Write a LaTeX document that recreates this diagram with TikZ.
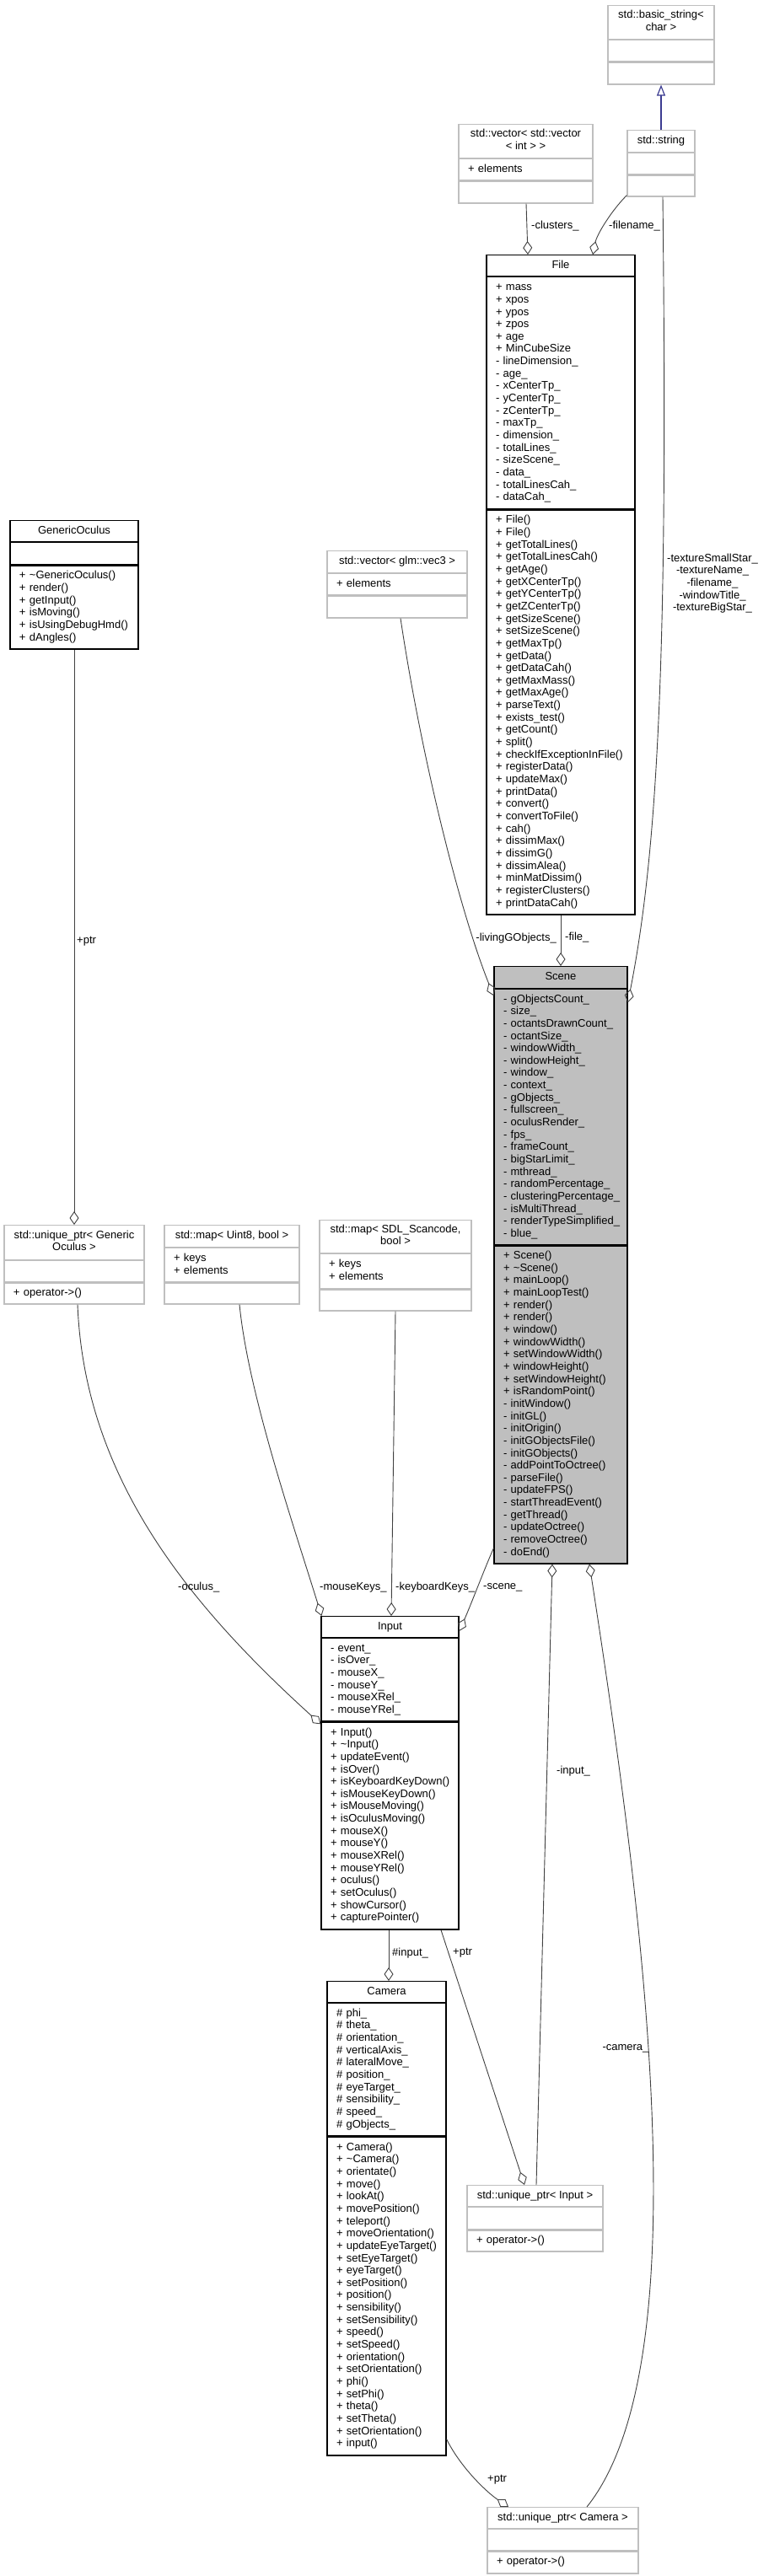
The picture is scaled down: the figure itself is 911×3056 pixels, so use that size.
\documentclass[tikz,border=0pt]{standalone}
\usepackage{fontspec}
\setmainfont{Liberation Sans}
\usetikzlibrary{arrows.meta}
\definecolor{gray75}{RGB}{191,191,191}
\definecolor{gray25}{RGB}{64,64,64}
\definecolor{inhblue}{RGB}{60,60,145}
\hyphenpenalty=10000
\exhyphenpenalty=10000

\begin{document}
\begin{tikzpicture}[x=1pt, y=-1pt,
every node/.style={font=\fontsize{13}{14.65}\selectfont},
hd/.style={anchor=north, inner sep=0pt, align=center, execute at begin node=\strut, execute at end node=\strut},
sec/.style={anchor=north, inner xsep=11pt, inner ysep=0pt, align=left, execute at begin node=\strut, execute at end node=\strut},
ext/.style={draw=gray75, line width=1.2pt},
doc/.style={draw=black, line width=1.2pt},
cur/.style={draw=black, fill=gray75, line width=1.2pt},
agg/.style={draw=gray25, line width=0.9pt, -{Diamond[open, length=16pt, width=11pt]}},
inh/.style={draw=inhblue, line width=1.2pt, -{Triangle[open, length=13pt, width=10pt]}},
lbl/.style={inner sep=0pt}]

\path[use as bounding box] (0,0) rectangle (911,3056);

% classes on top
{
\node[hd, ext, minimum width=126pt, minimum height=40pt] (bstrT) at (784,6) {std::basic\_string<\\char >};
\node[sec, ext, text width=104pt, minimum height=25pt] (bstrA) at (bstrT.south) {};
\node[sec, ext, text width=104pt, minimum height=26pt] (bstrM) at (bstrA.south) {};

\node[hd, ext, minimum width=80pt, minimum height=26pt] (strT) at (784,154) {std::string};
\node[sec, ext, text width=58pt, minimum height=25pt] (strA) at (strT.south) {};
\node[sec, ext, text width=58pt, minimum height=25pt] (strM) at (strA.south) {};

\node[hd, ext, minimum width=159pt, minimum height=40pt] (vvT) at (623.5,147) {std::vector< std::vector\\< int > >};
\node[sec, ext, text width=137pt, minimum height=25pt] (vvA) at (vvT.south) {+~elements};
\node[sec, ext, text width=137pt, minimum height=26pt] (vvM) at (vvA.south) {};
}

% File
{
\node[hd, doc, minimum width=176pt, minimum height=25pt] (fileT) at (665,302) {File};
\node[sec, doc, text width=154pt, minimum height=275pt] (fileA) at (fileT.south) {+~mass\\+~xpos\\+~ypos\\+~zpos\\+~age\\+~MinCubeSize\\-~lineDimension\_\\-~age\_\\-~xCenterTp\_\\-~yCenterTp\_\\-~zCenterTp\_\\-~maxTp\_\\-~dimension\_\\-~totalLines\_\\-~sizeScene\_\\-~data\_\\-~totalLinesCah\_\\-~dataCah\_};
\node[sec, doc, text width=154pt, minimum height=480pt] (fileM) at (fileA.south) {+~File()\\+~File()\\+~getTotalLines()\\+~getTotalLinesCah()\\+~getAge()\\+~getXCenterTp()\\+~getYCenterTp()\\+~getZCenterTp()\\+~getSizeScene()\\+~setSizeScene()\\+~getMaxTp()\\+~getData()\\+~getDataCah()\\+~getMaxMass()\\+~getMaxAge()\\+~parseText()\\+~exists\_test()\\+~getCount()\\+~split()\\+~checkIfExceptionInFile()\\+~registerData()\\+~updateMax()\\+~printData()\\+~convert()\\+~convertToFile()\\+~cah()\\+~dissimMax()\\+~dissimG()\\+~dissimAlea()\\+~minMatDissim()\\+~registerClusters()\\+~printDataCah()};
}

% GenericOculus and vector of vec3
{
\node[hd, doc, minimum width=152pt, minimum height=25pt] (goT) at (88,617) {GenericOculus};
\node[sec, doc, text width=130pt, minimum height=26pt] (goA) at (goT.south) {};
\node[sec, doc, text width=130pt, minimum height=99pt] (goM) at (goA.south) {+~\textasciitilde GenericOculus()\\+~render()\\+~getInput()\\+~isMoving()\\+~isUsingDebugHmd()\\+~dAngles()};

\node[hd, ext, minimum width=166pt, minimum height=26pt] (vgT) at (471,653) {std::vector< glm::vec3 >};
\node[sec, ext, text width=144pt, minimum height=25pt] (vgA) at (vgT.south) {+~elements};
\node[sec, ext, text width=144pt, minimum height=26pt] (vgM) at (vgA.south) {};
}

% Scene
{
\node[hd, cur, minimum width=158pt, minimum height=26pt] (sceneT) at (665,1146) {Scene};
\node[sec, cur, text width=136pt, minimum height=303pt] (sceneA) at (sceneT.south) {-~gObjectsCount\_\\-~size\_\\-~octantsDrawnCount\_\\-~octantSize\_\\-~windowWidth\_\\-~windowHeight\_\\-~window\_\\-~context\_\\-~gObjects\_\\-~fullscreen\_\\-~oculusRender\_\\-~fps\_\\-~frameCount\_\\-~bigStarLimit\_\\-~mthread\_\\-~randomPercentage\_\\-~clusteringPercentage\_\\-~isMultiThread\_\\-~renderTypeSimplified\_\\-~blue\_};
\node[sec, cur, text width=136pt, minimum height=377pt] (sceneM) at (sceneA.south) {+~Scene()\\+~\textasciitilde Scene()\\+~mainLoop()\\+~mainLoopTest()\\+~render()\\+~render()\\+~window()\\+~windowWidth()\\+~setWindowWidth()\\+~windowHeight()\\+~setWindowHeight()\\+~isRandomPoint()\\-~initWindow()\\-~initGL()\\-~initOrigin()\\-~initGObjectsFile()\\-~initGObjects()\\-~addPointToOctree()\\-~parseFile()\\-~updateFPS()\\-~startThreadEvent()\\-~getThread()\\-~updateOctree()\\-~removeOctree()\\-~doEnd()};
}

% pointers and maps
{
\node[hd, ext, minimum width=166pt, minimum height=41pt] (uoT) at (88,1453) {std::unique\_ptr< Generic\\Oculus >};
\node[sec, ext, text width=144pt, minimum height=25pt] (uoA) at (uoT.south) {};
\node[sec, ext, text width=144pt, minimum height=25pt] (uoM) at (uoA.south) {+~operator->()};

\node[hd, ext, minimum width=160pt, minimum height=26pt] (muT) at (275,1453) {std::map< Uint8, bool >};
\node[sec, ext, text width=138pt, minimum height=40pt] (muA) at (muT.south) {+~keys\\+~elements};
\node[sec, ext, text width=138pt, minimum height=25pt] (muM) at (muA.south) {};

\node[hd, ext, minimum width=180pt, minimum height=39pt] (msT) at (469,1447) {std::map< SDL\_Scancode,\\bool >};
\node[sec, ext, text width=158pt, minimum height=41pt] (msA) at (msT.south) {+~keys\\+~elements};
\node[sec, ext, text width=158pt, minimum height=25pt] (msM) at (msA.south) {};
}

% Input
{
\node[hd, doc, minimum width=163pt, minimum height=25pt] (inputT) at (462.5,1917) {Input};
\node[sec, doc, text width=141pt, minimum height=98pt] (inputA) at (inputT.south) {-~event\_\\-~isOver\_\\-~mouseX\_\\-~mouseY\_\\-~mouseXRel\_\\-~mouseYRel\_};
\node[sec, doc, text width=141pt, minimum height=246pt] (inputM) at (inputA.south) {+~Input()\\+~\textasciitilde Input()\\+~updateEvent()\\+~isOver()\\+~isKeyboardKeyDown()\\+~isMouseKeyDown()\\+~isMouseMoving()\\+~isOculusMoving()\\+~mouseX()\\+~mouseY()\\+~mouseXRel()\\+~mouseYRel()\\+~oculus()\\+~setOculus()\\+~showCursor()\\+~capturePointer()};
}

% Camera
{
\node[hd, doc, minimum width=141pt, minimum height=25pt] (camT) at (458.5,2350) {Camera};
\node[sec, doc, text width=119pt, minimum height=157pt] (camA) at (camT.south) {\#~phi\_\\\#~theta\_\\\#~orientation\_\\\#~verticalAxis\_\\\#~lateralMove\_\\\#~position\_\\\#~eyeTarget\_\\\#~sensibility\_\\\#~speed\_\\\#~gObjects\_};
\node[sec, doc, text width=119pt, minimum height=378pt] (camM) at (camA.south) {+~Camera()\\+~\textasciitilde Camera()\\+~orientate()\\+~move()\\+~lookAt()\\+~movePosition()\\+~teleport()\\+~moveOrientation()\\+~updateEyeTarget()\\+~setEyeTarget()\\+~eyeTarget()\\+~setPosition()\\+~position()\\+~sensibility()\\+~setSensibility()\\+~speed()\\+~setSpeed()\\+~orientation()\\+~setOrientation()\\+~phi()\\+~setPhi()\\+~theta()\\+~setTheta()\\+~setOrientation()\\+~input()};
}

% unique pointers at the bottom
{
\node[hd, ext, minimum width=161pt, minimum height=25pt] (uiT) at (634.5,2592) {std::unique\_ptr< Input >};
\node[sec, ext, text width=139pt, minimum height=26pt] (uiA) at (uiT.south) {};
\node[sec, ext, text width=139pt, minimum height=25pt] (uiM) at (uiA.south) {+~operator->()};

\node[hd, ext, minimum width=179pt, minimum height=25pt] (ucT) at (667.5,2974) {std::unique\_ptr< Camera >};
\node[sec, ext, text width=157pt, minimum height=25pt] (ucA) at (ucT.south) {};
\node[sec, ext, text width=157pt, minimum height=26pt] (ucM) at (ucA.south) {+~operator->()};
}

% edges
{
\draw[inh] (strT.north) -- (bstrM.south);
\draw[agg] ([xshift=0.5pt]vvM.south) -- ([xshift=-39pt]fileT.north);
\draw[agg] ([yshift=2pt]strM.south west) .. controls (725,250) and (708,278) .. ([xshift=38pt]fileT.north);
\draw[agg] ([xshift=2pt]strM.south) .. controls (792,750) and (782,1000) .. ([yshift=-16pt]sceneA.north east);
\draw[agg] (fileM.south) -- (sceneT.north);
\draw[agg] ([xshift=4pt]vgM.south) .. controls (500,900) and (545,1080) .. ([yshift=-8pt]sceneA.north west);
\draw[agg] (goM.south) -- (uoT.north);
\draw[agg] ([xshift=4pt]uoM.south) .. controls (100,1750) and (220,1900) .. ([yshift=-3pt]inputM.north west);
\draw[agg] ([xshift=9pt]muM.south) .. controls (294,1650) and (345,1800) .. ([xshift=1pt]inputT.north west);
\draw[agg] (msM.south) -- ([xshift=1.5pt]inputT.north);
\draw[agg] ([yshift=19pt]sceneM.south west) .. controls (575,1860) and (558,1905) .. ([yshift=-18pt]inputT.north east);
\draw[agg] ([xshift=1.5pt]uiT.north) -- ([xshift=-10pt]sceneM.south);
\draw[agg] ([xshift=28.5pt]ucT.north) .. controls (835,2800) and (760,2250) .. ([xshift=34pt]sceneM.south);
\draw[agg] ([xshift=-1.5pt]inputM.south) -- ([xshift=2.5pt]camT.north);
\draw[agg] ([xshift=60.5pt]inputM.south) -- ([xshift=-12.5pt]uiT.north);
\draw[agg] ([yshift=20pt]camM.south east) .. controls (545,2925) and (575,2955) .. ([xshift=-64.5pt]ucT.north);
}

% labels
{
\node[lbl, anchor=west] (lClusters) at (630,268) {-clusters\_};
\node[lbl, anchor=west] (lFilename) at (722,268) {-filename\_};
\node[lbl, align=center] (lStrings) at (845,692) {-textureSmallStar\_\\-textureName\_\\-filename\_\\-windowTitle\_\\-textureBigStar\_};
\node[lbl, anchor=west] (lFile) at (670,1112) {-file\_};
\node[lbl, anchor=east] (lLiving) at (660,1113) {-livingGObjects\_};
\node[lbl, anchor=west] (lPtrGo) at (91,1117) {+ptr};
\node[lbl, anchor=west] (lOculus) at (211,1883) {-oculus\_};
\node[lbl, anchor=west] (lMouse) at (379,1883) {-mouseKeys\_};
\node[lbl, anchor=west] (lKeyb) at (469,1883) {-keyboardKeys\_};
\node[lbl, anchor=west] (lScene) at (573,1883) {-scene\_};
\node[lbl, anchor=west] (lInput) at (660,2101) {-input\_};
\node[lbl] (lCamera) at (742,2430) {-camera\_};
\node[lbl, anchor=west] (lInputCam) at (465,2317) {\#input\_};
\node[lbl, anchor=west] (lPtrIn) at (537,2317) {+ptr};
\node[lbl, anchor=west] (lPtrCam) at (578,2942) {+ptr};
}

\end{tikzpicture}
\end{document}
